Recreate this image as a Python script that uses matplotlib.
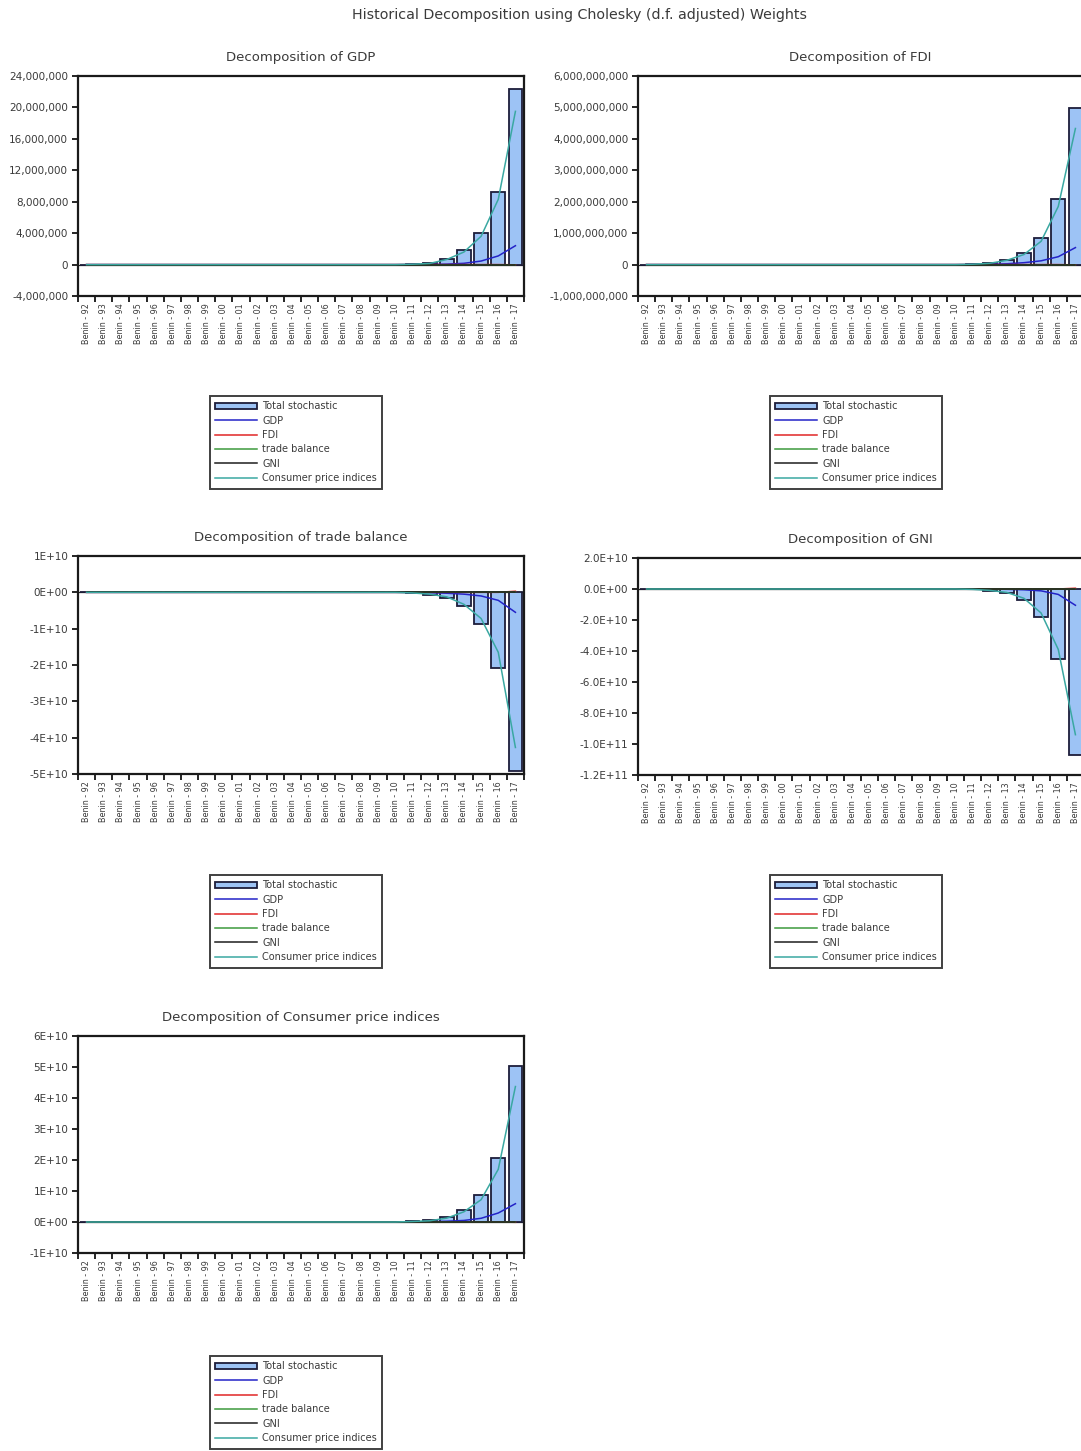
import numpy as np
import matplotlib
matplotlib.use('Agg')
import matplotlib.pyplot as plt
from matplotlib.ticker import FixedLocator

periods = ['Benin - 92', 'Benin - 93', 'Benin - 94', 'Benin - 95', 'Benin - 96',
           'Benin - 97', 'Benin - 98', 'Benin - 99', 'Benin - 00', 'Benin - 01',
           'Benin - 02', 'Benin - 03', 'Benin - 04', 'Benin - 05', 'Benin - 06',
           'Benin - 07', 'Benin - 08', 'Benin - 09', 'Benin - 10', 'Benin - 11',
           'Benin - 12', 'Benin - 13', 'Benin - 14', 'Benin - 15', 'Benin - 16',
           'Benin - 17']
names = ['Total stochastic', 'GDP', 'FDI', 'trade balance', 'GNI', 'Consumer price indices']

# Decomposition of GDP
gdp_total = [0, 0, 0, 0, 0, 0, 0, 0, 0, 0, 0, 0, 0, 0, 0, 0, 0, 0, 0,
             6e4, 1.6e5, 7.5e5, 1.8e6, 4.0e6, 9.2e6, 2.23e7]
gdp_gdp = [0, 0, 0, 0, 0, 0, 0, 0, 0, 0, 0, 0, 0, 0, 0, 0, 0, 0, 0,
           1e4, 2e4, 6e4, 1.6e5, 4.5e5, 1.1e6, 2.4e6]
gdp_fdi = [0, 0, 0, 0, 0, 0, 0, 0, 0, 0, 0, 0, 0, 0, 0, 0, 0, 0, 0,
           0, 0, 0, 0, 0, 0, -3e4]
gdp_trade = [0, 0, 0, 0, 0, 0, 0, 0, 0, 0, 0, 0, 0, 0, 0, 0, 0, 0, 0,
             0, 0, 0, 0, 0, 0, 0]
gdp_gni = [0, 0, 0, 0, 0, 0, 0, 0, 0, 0, 0, 0, 0, 0, 0, 0, 0, 0, 0,
           0, 0, 0, 0, 0, 0, 0]
gdp_cpi = [0, 0, 0, 0, 0, 0, 0, 0, 0, 0, 0, 0, 0, 0, 0, 0, 0, 0, 0,
           5e4, 1.4e5, 6.5e5, 1.6e6, 3.6e6, 8.3e6, 1.95e7]
gdp_ticks = [-4e6, 0, 4e6, 8e6, 12e6, 16e6, 20e6, 24e6]
gdp_ticklabels = ['-4,000,000', '0', '4,000,000', '8,000,000', '12,000,000',
                  '16,000,000', '20,000,000', '24,000,000']

# Decomposition of FDI
fdi_total = [0, 0, 0, 0, 0, 0, 0, 0, 0, 0, 0, 0, 0, 0, 0, 0, 0, 0, 0,
             1.5e7, 5e7, 1.6e8, 3.8e8, 8.6e8, 2.1e9, 4.97e9]
fdi_gdp = [0, 0, 0, 0, 0, 0, 0, 0, 0, 0, 0, 0, 0, 0, 0, 0, 0, 0, 0,
           3e6, 1e7, 2.5e7, 6e7, 1.2e8, 2.5e8, 5.4e8]
fdi_fdi = [0, 0, 0, 0, 0, 0, 0, 0, 0, 0, 0, 0, 0, 0, 0, 0, 0, 0, 0,
           0, 0, 0, 0, 0, 0, -1e7]
fdi_trade = [0, 0, 0, 0, 0, 0, 0, 0, 0, 0, 0, 0, 0, 0, 0, 0, 0, 0, 0,
             0, 0, 0, 0, 0, 0, 0]
fdi_gni = [0, 0, 0, 0, 0, 0, 0, 0, 0, 0, 0, 0, 0, 0, 0, 0, 0, 0, 0,
           0, 0, 0, 0, 0, 0, 0]
fdi_cpi = [0, 0, 0, 0, 0, 0, 0, 0, 0, 0, 0, 0, 0, 0, 0, 0, 0, 0, 0,
           1.2e7, 4e7, 1.35e8, 3.2e8, 7.4e8, 1.85e9, 4.33e9]
fdi_ticks = [-1e9, 0, 1e9, 2e9, 3e9, 4e9, 5e9, 6e9]
fdi_ticklabels = ['-1,000,000,000', '0', '1,000,000,000', '2,000,000,000',
                  '3,000,000,000', '4,000,000,000', '5,000,000,000', '6,000,000,000']

# Decomposition of trade balance
tb_total = [0, 0, 0, 0, 0, 0, 0, 0, 0, 0, 0, 0, 0, 0, 0, 0, 0, 0, 0,
            -2e8, -6e8, -1.5e9, -3.8e9, -8.8e9, -2.07e10, -4.93e10]
tb_gdp = [0, 0, 0, 0, 0, 0, 0, 0, 0, 0, 0, 0, 0, 0, 0, 0, 0, 0, 0,
          -3e7, -1e8, -2.5e8, -5e8, -1e9, -2.2e9, -5.5e9]
tb_fdi = [0, 0, 0, 0, 0, 0, 0, 0, 0, 0, 0, 0, 0, 0, 0, 0, 0, 0, 0,
          0, 0, 0, 0, 0, 0, 3e8]
tb_trade = [0, 0, 0, 0, 0, 0, 0, 0, 0, 0, 0, 0, 0, 0, 0, 0, 0, 0, 0,
            0, 0, 0, 0, 0, 0, 0]
tb_gni = [0, 0, 0, 0, 0, 0, 0, 0, 0, 0, 0, 0, 0, 0, 0, 0, 0, 0, 0,
          0, 0, 0, 0, 0, 0, 0]
tb_cpi = [0, 0, 0, 0, 0, 0, 0, 0, 0, 0, 0, 0, 0, 0, 0, 0, 0, 0, 0,
          -1.7e8, -5e8, -1.25e9, -3.3e9, -7.2e9, -1.65e10, -4.27e10]
tb_ticks = [-5e10, -4e10, -3e10, -2e10, -1e10, 0, 1e10]
tb_ticklabels = ['-5E+10', '-4E+10', '-3E+10', '-2E+10', '-1E+10', '0E+00', '1E+10']

# Decomposition of GNI
gni_total = [0, 0, 0, 0, 0, 0, 0, 0, 0, 0, 0, 0, 0, 0, 0, 0, 0, 0, 0,
             -3e8, -1e9, -2.5e9, -7e9, -1.8e10, -4.5e10, -1.07e11]
gni_gdp = [0, 0, 0, 0, 0, 0, 0, 0, 0, 0, 0, 0, 0, 0, 0, 0, 0, 0, 0,
           -2e7, -6e7, -2e8, -5e8, -1.2e9, -3.5e9, -1.05e10]
gni_fdi = [0, 0, 0, 0, 0, 0, 0, 0, 0, 0, 0, 0, 0, 0, 0, 0, 0, 0, 0,
           0, 0, 0, 0, 0, 0, 5e8]
gni_trade = [0, 0, 0, 0, 0, 0, 0, 0, 0, 0, 0, 0, 0, 0, 0, 0, 0, 0, 0,
             0, 0, 0, 0, 0, 0, 0]
gni_gni = [0, 0, 0, 0, 0, 0, 0, 0, 0, 0, 0, 0, 0, 0, 0, 0, 0, 0, 0,
           0, 0, 0, 0, 0, 0, 0]
gni_cpi = [0, 0, 0, 0, 0, 0, 0, 0, 0, 0, 0, 0, 0, 0, 0, 0, 0, 0, 0,
           -2.5e8, -9e8, -2.2e9, -6e9, -1.55e10, -3.9e10, -9.4e10]
gni_ticks = [-1.2e11, -1e11, -8e10, -6e10, -4e10, -2e10, 0, 2e10]
gni_ticklabels = ['-1.2E+11', '-1.0E+11', '-8.0E+10', '-6.0E+10', '-4.0E+10',
                  '-2.0E+10', '0.0E+00', '2.0E+10']

# Decomposition of Consumer price indices
cpi_total = [0, 0, 0, 0, 0, 0, 0, 0, 0, 0, 0, 0, 0, 0, 0, 0, 0, 0, 0,
             2e8, 5e8, 1.5e9, 3.8e9, 8.6e9, 2.08e10, 5.02e10]
cpi_gdp = [0, 0, 0, 0, 0, 0, 0, 0, 0, 0, 0, 0, 0, 0, 0, 0, 0, 0, 0,
           3e7, 1e8, 2.5e8, 5e8, 1.2e9, 2.9e9, 5.9e9]
cpi_fdi = [0, 0, 0, 0, 0, 0, 0, 0, 0, 0, 0, 0, 0, 0, 0, 0, 0, 0, 0,
           0, 0, 0, 0, 0, 0, -1e8]
cpi_trade = [0, 0, 0, 0, 0, 0, 0, 0, 0, 0, 0, 0, 0, 0, 0, 0, 0, 0, 0,
             0, 0, 0, 0, 0, 0, 0]
cpi_gni = [0, 0, 0, 0, 0, 0, 0, 0, 0, 0, 0, 0, 0, 0, 0, 0, 0, 0, 0,
           0, 0, 0, 0, 0, 0, 0]
cpi_cpi = [0, 0, 0, 0, 0, 0, 0, 0, 0, 0, 0, 0, 0, 0, 0, 0, 0, 0, 0,
           1.7e8, 4e8, 1.25e9, 3.3e9, 7.2e9, 1.7e10, 4.37e10]
cpi_ticks = [-1e10, 0, 1e10, 2e10, 3e10, 4e10, 5e10, 6e10]
cpi_ticklabels = ['-1E+10', '0E+00', '1E+10', '2E+10', '3E+10', '4E+10', '5E+10', '6E+10']

line_colors = ['#2323c8', '#e02626', '#3d9a3d', '#1e1e1e', '#3aa8a2']
bar_color = '#9dc3f5'
edge_color = '#1d1d3a'
text_color = '#3a3a3a'

W, H = 1081, 1451
fig = plt.figure(figsize=(W / 100, H / 100), dpi=100)
plt.rcParams['font.family'] = ['DejaVu Sans']


def px_axes(x0, y0, x1, y1):
    return fig.add_axes([x0 / W, 1 - y1 / H, (x1 - x0) / W, (y1 - y0) / H])


def panel(box, title, series, ticks, ticklabels, legend_xy):
    ax = px_axes(*box)
    x = np.arange(len(periods))
    total = series[0]
    bars = ax.bar(x, total, width=0.8, color=bar_color, edgecolor=edge_color,
                  linewidth=1.3, zorder=2)
    ax.axhline(0, color='#222222', lw=0.9, zorder=1)
    handles = [bars]
    for s, c in zip(series[1:], line_colors):
        ln, = ax.plot(x, s, color=c, lw=1.1, zorder=3)
        handles.append(ln)
    ax.set_xlim(-0.5, len(periods) - 0.5)
    ax.set_ylim(ticks[0], ticks[-1])
    ax.set_yticks(ticks)
    ax.set_yticklabels(ticklabels, fontsize=7.5, color=text_color)
    ax.set_xticks(x)
    ax.set_xticklabels(periods, rotation=90, fontsize=5.8, color=text_color)
    ax.xaxis.set_minor_locator(FixedLocator(np.arange(len(periods) + 1) - 0.5))
    ax.tick_params(axis='x', which='major', length=0, pad=5)
    ax.tick_params(axis='x', which='minor', length=4, width=1.2, direction='out')
    ax.tick_params(axis='y', length=4, width=1.2, direction='out', pad=3)
    for sp in ax.spines.values():
        sp.set_linewidth(1.6)
        sp.set_color('#1a1a1a')
    cx = (box[0] + box[2]) / 2
    fig.text(min(cx, 860) / W, 1 - (box[1] - 19) / H, title, ha='center', va='center',
             fontsize=9.5, color=text_color)
    leg = ax.legend(handles, names, loc='upper left',
                    bbox_to_anchor=(legend_xy[0] / W, 1 - legend_xy[1] / H),
                    bbox_transform=fig.transFigure, fontsize=7, frameon=True,
                    fancybox=False, edgecolor='#111111', handlelength=4.3,
                    handletextpad=0.5, labelspacing=0.45, borderpad=0.55,
                    borderaxespad=0)
    leg.get_frame().set_linewidth(1.4)
    for t in leg.get_texts():
        t.set_color(text_color)
    return ax


panel((78, 76, 524, 296), 'Decomposition of GDP',
      [gdp_total, gdp_gdp, gdp_fdi, gdp_trade, gdp_gni, gdp_cpi],
      gdp_ticks, gdp_ticklabels, (210, 396))
panel((638, 76, 1084, 296), 'Decomposition of FDI',
      [fdi_total, fdi_gdp, fdi_fdi, fdi_trade, fdi_gni, fdi_cpi],
      fdi_ticks, fdi_ticklabels, (770, 396))
panel((78, 556, 524, 774), 'Decomposition of trade balance',
      [tb_total, tb_gdp, tb_fdi, tb_trade, tb_gni, tb_cpi],
      tb_ticks, tb_ticklabels, (210, 875))
panel((638, 558, 1084, 775), 'Decomposition of GNI',
      [gni_total, gni_gdp, gni_fdi, gni_trade, gni_gni, gni_cpi],
      gni_ticks, gni_ticklabels, (770, 875))
panel((78, 1036, 524, 1253), 'Decomposition of Consumer price indices',
      [cpi_total, cpi_gdp, cpi_fdi, cpi_trade, cpi_gni, cpi_cpi],
      cpi_ticks, cpi_ticklabels, (210, 1356))

fig.text(580 / W, 1 - 15 / H, 'Historical Decomposition using Cholesky (d.f. adjusted) Weights',
         ha='center', va='center', fontsize=10.3, color=text_color)

fig.savefig('out.png', dpi=100)
